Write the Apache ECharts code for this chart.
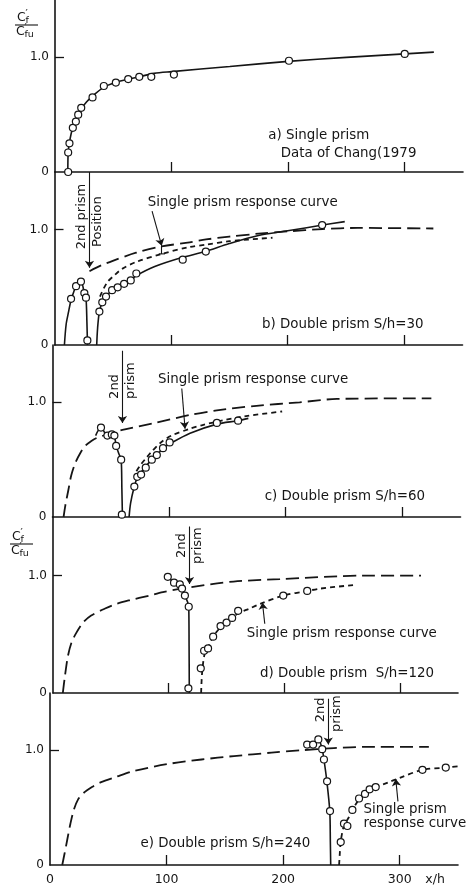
<!DOCTYPE html>
<html>
<head>
<meta charset="utf-8">
<script src="https://cdn.jsdelivr.net/npm/echarts@6/dist/echarts.min.js"></script>
<style>
  html, body { margin: 0; padding: 0; background: #fff; }
  #chart { width: 466px; height: 889px; }
</style>
</head>
<body>
<div id="chart"></div>
<script>
// ---------- data (x/h, Cf'/Cfu') ----------
const xTickValues = [0, 100, 200, 300];
const xTickLabels = ['0', '100', '200', '300'];
const yTickValues = [0, 1];
const yTickLabels = ['0', '1.0'];

// a) single prism, data of Chang (1979)
const aFit  = [[11,0],[11.3,0.17],[12.4,0.26],[15,0.38],[18,0.45],[20,0.5],[22.5,0.55],[27,0.61],[32,0.66],[42,0.74],[52,0.78],[63,0.81],[72,0.83],[85,0.86],[100,0.875],[150,0.92],[200,0.965],[250,1.0],[300,1.03],[325,1.045]];
const aData = [[11.3,0],[11.3,0.17],[12.4,0.25],[15.3,0.385],[17.9,0.44],[19.9,0.5],[22.5,0.56],[32.2,0.65],[41.9,0.75],[52.2,0.78],[62.8,0.81],[72.3,0.83],[82.6,0.83],[102,0.85],[200.7,0.97],[300,1.03]];

// b) double prism S/h = 30
const bSingle    = [[30,0.64],[40,0.69],[50,0.73],[70,0.8],[92,0.855],[116,0.89],[130,0.915],[150,0.94],[175,0.965],[200,0.985],[230,1.005],[260,1.015],[325,1.01]];
const bShifted   = [[39,0.42],[45,0.54],[52,0.61],[58,0.66],[70,0.72],[92,0.79],[116,0.85],[130,0.87],[150,0.9],[187,0.93]];
const bFrontFit  = [[8.5,0],[10,0.18],[11.9,0.28],[14.2,0.39],[16.5,0.46],[18.5,0.51],[22.7,0.55],[25.6,0.45],[27,0.41],[27.8,0.2],[28.3,0]];
const bRearFit   = [[36.2,0],[37,0.15],[38.5,0.29],[41,0.37],[44,0.42],[49,0.47],[54,0.5],[60,0.53],[65,0.56],[70,0.6],[86,0.68],[110,0.76],[129,0.81],[150,0.88],[175,0.95],[200,0.99],[230,1.04],[249,1.07]];
const bFrontData = [[14.2,0.4],[18.5,0.51],[22.7,0.55],[25.6,0.45],[27,0.41],[28.2,0.04]];
const bRearData  = [[38.5,0.29],[41,0.37],[44.2,0.42],[49.4,0.475],[54.2,0.5],[59.7,0.53],[65.4,0.56],[70.2,0.62],[110,0.74],[129.8,0.81],[229.6,1.04]];

// c) double prism S/h = 60
const cSingle    = [[9.5,0],[11,0.1],[13.7,0.24],[16,0.36],[19.5,0.47],[24,0.56],[28,0.62],[33,0.66],[38,0.69],[47,0.72],[60,0.76],[88,0.82],[118,0.89],[141,0.93],[175,0.97],[212,1.0],[244,1.03],[325,1.035]];
const cShifted   = [[72,0.4],[76,0.46],[80,0.51],[85,0.57],[93,0.65],[102,0.71],[118,0.77],[128,0.8],[145,0.84],[166,0.88],[197,0.92]];
const cFrontFit  = [[37,0.71],[41.6,0.78],[47,0.71],[51,0.72],[53,0.71],[54.6,0.62],[57,0.55],[58.9,0.5],[59.5,0.25],[60,0]];
const cRearFit   = [[65.7,0],[67,0.12],[70,0.26],[73,0.35],[76,0.39],[80,0.44],[85.2,0.5],[89.5,0.54],[95,0.6],[101,0.64],[118,0.73],[141,0.81],[159,0.84],[168,0.86]];
const cFrontData = [[41.6,0.78],[47.1,0.71],[50.9,0.72],[53.1,0.71],[54.6,0.62],[58.9,0.5],[59.5,0.02]];
const cRearData  = [[70.2,0.265],[72.7,0.35],[76,0.37],[80,0.43],[85.2,0.5],[89.5,0.54],[94.8,0.6],[100.5,0.65],[141,0.82],[159.2,0.84]];

// d) double prism S/h = 120
const dSingle    = [[8.5,0],[10,0.12],[12.8,0.31],[16,0.43],[20,0.51],[26,0.6],[33,0.66],[45,0.72],[55,0.76],[66,0.79],[83,0.83],[95,0.86],[118,0.9],[156,0.95],[196,0.97],[268,1.0],[318,1.0]];
const dShifted   = [[128,0],[128.4,0.1],[129.2,0.21],[131,0.33],[134,0.39],[138.4,0.48],[144.8,0.56],[150,0.6],[155,0.64],[160,0.68],[170,0.72],[179,0.76],[199,0.83],[220,0.87],[231,0.89],[260,0.92]];
const dFrontFit  = [[99.4,0.99],[104.6,0.94],[109.6,0.925],[111.5,0.89],[114,0.83],[117.3,0.735],[117.6,0.4],[117.8,0]];
const dFrontData = [[99.2,0.99],[104.6,0.94],[109.6,0.925],[111.5,0.89],[114,0.83],[117.3,0.735],[117,0.04]];
const dRearData  = [[127.7,0.21],[130.6,0.36],[134,0.38],[138.4,0.48],[144.8,0.57],[150,0.6],[154.8,0.64],[160,0.7],[199,0.83],[219.7,0.87]];

// e) double prism S/h = 240
const eSingle    = [[10.5,0],[12.5,0.1],[14.8,0.22],[17.5,0.36],[20.4,0.48],[24,0.57],[29,0.63],[36,0.68],[43.3,0.72],[57,0.77],[72,0.82],[100.6,0.88],[130,0.92],[157.8,0.95],[190,0.98],[215,1.0],[243.6,1.02],[272,1.03],[325,1.03]];
const eShifted   = [[248,0],[248.6,0.1],[249.4,0.2],[251,0.3],[253,0.36],[256,0.41],[259.4,0.48],[265,0.57],[270,0.62],[274,0.66],[279.4,0.68],[290,0.72],[300,0.76],[319.5,0.83],[340,0.85],[350,0.86]];
const eFrontFit  = [[220.6,1.05],[225.7,1.05],[230.2,1.095],[233.5,1.01],[235,0.92],[237.5,0.73],[240,0.47],[240.5,0.2],[240.8,0]];
const eFrontData = [[220.6,1.05],[225.7,1.05],[230.2,1.095],[233.5,1.01],[235,0.92],[237.7,0.73],[240.2,0.47]];
const eRearData  = [[249.4,0.2],[252.2,0.36],[255.1,0.34],[259.4,0.48],[265.1,0.58],[270.2,0.62],[274.2,0.66],[279.4,0.68],[319.5,0.83],[339.5,0.85]];

// annotation texts and pointers (data coordinates per panel)
const captions = [
  [0, 183, 0.32, 'a) Single prism'],
  [0, 193.6, 0.16, 'Data of Chang(1979'],
  [1, 80, 1.235, 'Single prism response curve'],
  [1, 178, 0.18, 'b) Double prism S/h=30'],
  [2, 90.6, 1.2, 'Single prism response curve'],
  [2, 182, 0.175, 'c) Double prism S/h=60'],
  [3, 167.5, 0.51, 'Single prism response curve'],
  [3, 178.8, 0.17, 'd) Double prism  S/h=120'],
  [4, 269, 0.48, 'Single prism'],
  [4, 269, 0.36, 'response curve'],
  [4, 77.7, 0.19, 'e) Double prism S/h=240']
];
// upright text beside the second-prism arrows: [panel, x, y start, side, text]
const prismTags = [
  [1, 30, 0.83, 'left', '2nd prism'],
  [1, 30, 0.85, 'right', 'Position'],
  [2, 60, 1.03, 'left', '2nd'],
  [2, 60, 1.03, 'right', 'prism'],
  [3, 118, 1.15, 'left', '2nd'],
  [3, 118, 1.10, 'right', 'prism'],
  [4, 238.7, 1.245, 'left', '2nd'],
  [4, 238.7, 1.16, 'right', 'prism']
];
const arrows = [
  [1, [30, 1.5], [30, 0.67]],
  [1, [83.7, 1.16], [92, 0.86]],
  [2, [60, 1.45], [60, 0.82]],
  [2, [110.9, 1.12], [113.7, 0.77]],
  [3, [118, 1.42], [118, 0.93]],
  [3, [183, 0.59], [181, 0.77]],
  [4, [238.7, 1.45], [238.7, 1.05]],
  [4, [298.5, 0.555], [296.6, 0.75]]
];
const bracket = [1, [92, 0.86], [92, 0.79]];

// ---------- chart ----------
const INK = '#151515';
const FONT = 'DejaVu Sans';
const panels = [
  { left: 55,   top: 0,   height: 172, width: 408 },
  { left: 54.5, top: 172, height: 173, width: 408 },
  { left: 52.5, top: 345, height: 172, width: 408 },
  { left: 53,   top: 517, height: 176, width: 405 },
  { left: 50,   top: 693, height: 172, width: 408 }
];

const grid = panels.map(p => ({ left: p.left, top: p.top, width: p.width, height: p.height, containLabel: false }));

const xAxis = panels.map((p, i) => ({
  type: 'value', gridIndex: i, min: 0, max: 350, interval: 100,
  axisLine: { onZero: false, lineStyle: { color: INK, width: 1.6 } },
  axisTick: { inside: true, length: 10, lineStyle: { color: INK, width: 1.3 }, customValues: xTickValues.slice(1) },
  axisLabel: {
    show: i === panels.length - 1, customValues: xTickValues,
    formatter: v => { const k = xTickValues.indexOf(v); return k < 0 ? '' : xTickLabels[k]; },
    color: INK, fontFamily: FONT, fontSize: 12.5, margin: 8
  },
  splitLine: { show: false }
}));

const yAxis = panels.map((p, i) => ({
  type: 'value', gridIndex: i, min: 0, max: 1.5, interval: 0.5,
  axisLine: { show: true, onZero: false, lineStyle: { color: INK, width: 1.6 } },
  axisTick: { inside: true, length: 9, lineStyle: { color: INK, width: 1.3 }, customValues: [1] },
  axisLabel: {
    customValues: yTickValues,
    formatter: v => { const k = yTickValues.indexOf(v); return k < 0 ? '' : yTickLabels[k]; },
    color: INK, fontFamily: FONT, fontSize: 12, margin: 6
  },
  splitLine: { show: false }
}));

const LONG = [13, 6], SHORT = [5, 4];
function curve(g, data, dash) {
  return {
    type: 'line', xAxisIndex: g, yAxisIndex: g, data: data,
    symbol: 'none', smooth: 0.3, silent: true, z: 2,
    lineStyle: { color: INK, width: dash === 'solid' ? 1.6 : 1.8, type: dash }
  };
}
function dots(g, data) {
  return {
    type: 'scatter', xAxisIndex: g, yAxisIndex: g, data: data,
    symbol: 'circle', symbolSize: 7, silent: true, z: 5,
    itemStyle: { color: '#fff', borderColor: INK, borderWidth: 1.2, opacity: 1 }
  };
}

const series = [
  curve(0, aFit, 'solid'), dots(0, aData),

  curve(1, bSingle, LONG), curve(1, bShifted, SHORT),
  curve(1, bFrontFit, 'solid'), curve(1, bRearFit, 'solid'),
  dots(1, bFrontData), dots(1, bRearData),

  curve(2, cSingle, LONG), curve(2, cShifted, SHORT),
  curve(2, cFrontFit, 'solid'), curve(2, cRearFit, 'solid'),
  dots(2, cFrontData), dots(2, cRearData),

  curve(3, dSingle, LONG), curve(3, dShifted, SHORT),
  curve(3, dFrontFit, 'solid'),
  dots(3, dFrontData), dots(3, dRearData),

  curve(4, eSingle, LONG), curve(4, eShifted, SHORT),
  curve(4, eFrontFit, 'solid'),
  dots(4, eFrontData), dots(4, eRearData)
];

arrows.forEach(a => {
  series.push({
    type: 'lines', coordinateSystem: 'cartesian2d', xAxisIndex: a[0], yAxisIndex: a[0],
    data: [{ coords: [a[1], a[2]] }], symbol: ['none', 'arrow'], symbolSize: [0, 7],
    silent: true, z: 6, lineStyle: { color: INK, width: 1.1, opacity: 1, curveness: 0 }
  });
});
series.push({
  type: 'lines', coordinateSystem: 'cartesian2d', xAxisIndex: bracket[0], yAxisIndex: bracket[0],
  data: [{ coords: [bracket[1], bracket[2]] }], symbol: ['none', 'none'],
  silent: true, z: 6, lineStyle: { color: INK, width: 1.1, opacity: 1 }
});

const chart = echarts.init(document.getElementById('chart'), null, { renderer: 'canvas' });
chart.setOption({ animation: false, backgroundColor: '#fff', grid, xAxis, yAxis, series });

// ---------- text overlays ----------
const graphics = [];
const txt = { fill: INK, fontFamily: FONT, fontSize: 13.4 };

captions.forEach(c => {
  const p = chart.convertToPixel({ gridIndex: c[0] }, [c[1], c[2]]);
  graphics.push({ type: 'text', x: p[0], y: p[1], silent: true,
    style: Object.assign({ text: c[3], align: 'left', verticalAlign: 'middle' }, txt) });
});

prismTags.forEach(t => {
  const p = chart.convertToPixel({ gridIndex: t[0] }, [t[1], t[2]]);
  const left = t[3] === 'left';
  graphics.push({ type: 'text', x: p[0] + (left ? -1.5 : 2), y: p[1], rotation: Math.PI / 2, silent: true,
    style: Object.assign({}, txt, { text: t[4], fontSize: 13, align: 'left', verticalAlign: left ? 'bottom' : 'top' }) });
});

// small cap on the bracket between the two response curves
{
  const p = chart.convertToPixel({ gridIndex: bracket[0] }, bracket[2]);
  graphics.push({ type: 'line', silent: true, shape: { x1: p[0] - 3, y1: p[1], x2: p[0] + 3, y2: p[1] },
    style: { stroke: INK, lineWidth: 1.1 } });
}

// y-axis quantity Cf'/Cfu' drawn as a stacked fraction
function fraction(x, y) {
  const s = { fill: INK, fontFamily: FONT };
  return [
    { type: 'text', x: x + 2,  y: y - 7,  style: Object.assign({ text: 'C', fontSize: 12.5, align: 'left', verticalAlign: 'middle' }, s) },
    { type: 'text', x: x + 10.5, y: y - 4,  style: Object.assign({ text: 'f', fontSize: 9.5, align: 'left', verticalAlign: 'middle' }, s) },
    { type: 'text', x: x + 10.5, y: y - 11, style: Object.assign({ text: '\u2032', fontSize: 10, align: 'left', verticalAlign: 'middle' }, s) },
    { type: 'line', shape: { x1: x, y1: y, x2: x + 23, y2: y }, style: { stroke: INK, lineWidth: 1.1 } },
    { type: 'text', x: x + 1,  y: y + 7,  style: Object.assign({ text: 'C', fontSize: 12.5, align: 'left', verticalAlign: 'middle' }, s) },
    { type: 'text', x: x + 9.5,  y: y + 10, style: Object.assign({ text: 'fu', fontSize: 9.5, align: 'left', verticalAlign: 'middle' }, s) },
    { type: 'text', x: x + 9.5,  y: y + 3,  style: Object.assign({ text: '\u2032', fontSize: 10, align: 'left', verticalAlign: 'middle' }, s) }
  ];
}
fraction(15, 25).forEach(g => graphics.push(Object.assign({ silent: true }, g)));
fraction(10, 544).forEach(g => graphics.push(Object.assign({ silent: true }, g)));

// x/h label beside the bottom tick labels
{
  const p = chart.convertToPixel({ gridIndex: 4 }, [322, 0]);
  graphics.push({ type: 'text', x: p[0], y: p[1] + 15, silent: true,
    style: Object.assign({ text: 'x/h', align: 'left', verticalAlign: 'middle' }, txt, { fontSize: 12.5 }) });
}

chart.setOption({ graphic: graphics });
</script>
</body>
</html>
